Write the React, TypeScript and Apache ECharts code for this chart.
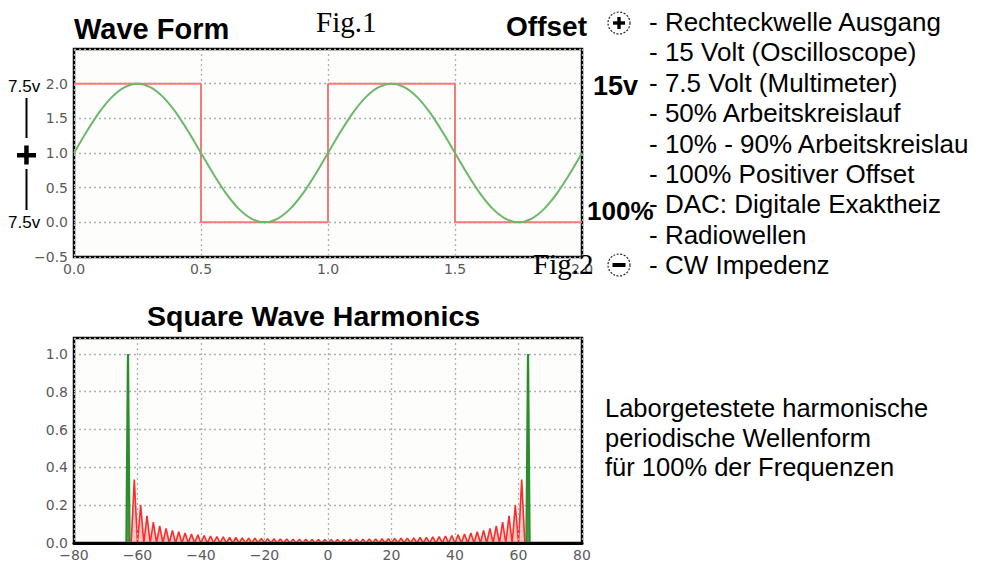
import React, { useEffect, useRef } from "react";
import * as echarts from "echarts";

// ---------- Fig.1 : Wave Form ----------
const waveX = [0, 0.05, 0.1, 0.15, 0.2, 0.25, 0.3, 0.35, 0.4, 0.45, 0.5, 0.55, 0.6, 0.65, 0.7, 0.75, 0.8, 0.85, 0.9, 0.95, 1.0,
  1.05, 1.1, 1.15, 1.2, 1.25, 1.3, 1.35, 1.4, 1.45, 1.5, 1.55, 1.6, 1.65, 1.7, 1.75, 1.8, 1.85, 1.9, 1.95, 2.0];
const sineY = [1.0, 1.31, 1.59, 1.81, 1.95, 2.0, 1.95, 1.81, 1.59, 1.31, 1.0, 0.69, 0.41, 0.19, 0.05, 0.0, 0.05, 0.19, 0.41, 0.69, 1.0,
  1.31, 1.59, 1.81, 1.95, 2.0, 1.95, 1.81, 1.59, 1.31, 1.0, 0.69, 0.41, 0.19, 0.05, 0.0, 0.05, 0.19, 0.41, 0.69, 1.0];
const squareX = [0, 0.5, 0.5, 1.0, 1.0, 1.5, 1.5, 2.0];
const squareY = [2, 2, 0, 0, 2, 2, 0, 0];

// ---------- Fig.2 : Square Wave Harmonics ----------
const greenLeftX = [-63.5, -63, -62.5];
const greenRightX = [62.5, 63, 63.5];
const greenY = [0, 1.0, 0];
const redPeakX = [-61, -59, -57, -55, -53, -51, -49, -47, -45, -43, -41, -39, -37, -35, -33, -31, -29, -27, -25, -23, -21, -19, -17, -15, -13, -11, -9, -7, -5, -3, -1,
  1, 3, 5, 7, 9, 11, 13, 15, 17, 19, 21, 23, 25, 27, 29, 31, 33, 35, 37, 39, 41, 43, 45, 47, 49, 51, 53, 55, 57, 59, 61];
const redPeakY = [0.335, 0.2, 0.143, 0.111, 0.091, 0.077, 0.067, 0.059, 0.053, 0.048, 0.043, 0.04, 0.037, 0.034, 0.032, 0.03, 0.029, 0.027, 0.026, 0.025, 0.024, 0.023, 0.022, 0.021, 0.021, 0.02, 0.02, 0.02, 0.019, 0.019, 0.018,
  0.018, 0.019, 0.019, 0.02, 0.02, 0.02, 0.021, 0.021, 0.022, 0.023, 0.024, 0.025, 0.026, 0.027, 0.029, 0.03, 0.032, 0.034, 0.037, 0.04, 0.043, 0.048, 0.053, 0.059, 0.067, 0.077, 0.091, 0.111, 0.143, 0.2, 0.335];

// ---------- texts ----------
const titleTop = "Wave Form";
const titleBottom = "Square Wave Harmonics";
const listLines = [
  "- Rechteckwelle Ausgang",
  "- 15 Volt (Oscilloscope)",
  "- 7.5 Volt (Multimeter)",
  "- 50% Arbeitskreislauf",
  "- 10% - 90% Arbeitskreislau",
  "- 100% Positiver Offset",
  "- DAC: Digitale Exaktheiz",
  "- Radiowellen",
  "- CW Impedenz",
];
const noteLines = [
  "Laborgetestete harmonische",
  "periodische Wellenform",
  "für 100% der Frequenzen",
];

const SANS = '"Liberation Sans", Arial, sans-serif';
const SERIF = '"Liberation Serif", "Times New Roman", serif';
const TICK_FONT = "DejaVu Sans";

const fmt = (d: number) => (v: number) => v.toFixed(d).replace("-", "\u2212");
const fmtInt = (v: number) => String(v).replace("-", "\u2212");

function txt(text: string, x: number, y: number, font: string, align = "left", extra: any = {}) {
  return {
    type: "text",
    z: 100,
    style: {
      text, x, y, font, fill: "#000",
      align, verticalAlign: "middle",
      textAlign: align, textVerticalAlign: "middle",
      ...extra,
    },
  };
}

export default function App() {
  const ref = useRef<HTMLDivElement>(null);
  useEffect(() => {
    if (!ref.current) return;
    const chart = echarts.init(ref.current, null, { renderer: "svg" });

    const splitDotted = { show: true, lineStyle: { color: "#b0b0b0", type: [2, 3], width: 1.3 } };
    const axisLabelBase = { color: "#5a5a5a", fontFamily: TICK_FONT, fontSize: 14, fontWeight: "normal" };

    const redZig: number[][] = [];
    redPeakX.forEach((x, i) => {
      redZig.push([x - 1, 0], [x, redPeakY[i]], [x + 1, 0]);
    });

    const graphics: any[] = [];
    graphics.push(txt(titleTop, 74, 29, `bold 29px ${SANS}`));
    graphics.push(txt("Fig.1", 316, 22, `29px ${SERIF}`));
    graphics.push(txt("Offset", 587, 26, `bold 28px ${SANS}`, "right"));
    graphics.push(txt("15v", 593, 86, `bold 27px ${SANS}`));
    graphics.push(txt("100%", 587, 211, `bold 26px ${SANS}`));
    graphics.push(txt("Fig.2", 533, 264, `29px ${SERIF}`));
    graphics.push(txt(titleBottom, 147, 316, `bold 28.5px ${SANS}`));
    listLines.forEach((l, i) => graphics.push(txt(l, 649, 22 + 30.4 * i, `26px ${SANS}`)));
    noteLines.forEach((l, i) => graphics.push(txt(l, 605, 408 + 29.5 * i, `25.5px ${SANS}`)));

    // left annotation of Fig.1
    graphics.push(txt("7.5v", 8, 86, `17px ${SANS}`));
    graphics.push(txt("7.5v", 8, 222, `17px ${SANS}`));
    graphics.push({ type: "line", z: 100, shape: { x1: 26.5, y1: 98, x2: 26.5, y2: 138 }, style: { stroke: "#000", lineWidth: 2 } });
    graphics.push({ type: "line", z: 100, shape: { x1: 26.5, y1: 169, x2: 26.5, y2: 210 }, style: { stroke: "#000", lineWidth: 2 } });
    graphics.push({ type: "rect", z: 100, shape: { x: 17, y: 153, width: 19, height: 4.5 }, style: { fill: "#000" } });
    graphics.push({ type: "rect", z: 100, shape: { x: 24.2, y: 145.5, width: 4.5, height: 19 }, style: { fill: "#000" } });

    // circled plus / minus
    graphics.push({ type: "circle", z: 100, shape: { cx: 619, cy: 23, r: 11 }, style: { fill: "none", stroke: "#222", lineWidth: 1.2, lineDash: [2, 1.5] } });
    graphics.push({ type: "rect", z: 100, shape: { x: 613, y: 21.3, width: 12, height: 3.4 }, style: { fill: "#000" } });
    graphics.push({ type: "rect", z: 100, shape: { x: 617.3, y: 17, width: 3.4, height: 12 }, style: { fill: "#000" } });
    graphics.push({ type: "circle", z: 100, shape: { cx: 619, cy: 265, r: 11 }, style: { fill: "none", stroke: "#222", lineWidth: 1.2, lineDash: [2, 1.5] } });
    graphics.push({ type: "rect", z: 100, shape: { x: 612.5, y: 263, width: 13, height: 4 }, style: { fill: "#000" } });

    chart.setOption({
      animation: false,
      backgroundColor: "#fff",
      grid: [
        { left: 74, top: 49, width: 508, height: 208, show: true, borderColor: "#000", borderWidth: 2.5, backgroundColor: "#fdfdfb" },
        { left: 74, top: 338, width: 508, height: 206, show: true, borderColor: "#000", borderWidth: 2.5, backgroundColor: "#fdfdfb" },
      ],
      xAxis: [
        {
          type: "value", gridIndex: 0, min: 0, max: 2, interval: 0.5,
          axisLine: { show: false }, axisTick: { show: false },
          axisLabel: { ...axisLabelBase, margin: 5, formatter: fmt(1) },
          splitLine: splitDotted,
        },
        {
          type: "value", gridIndex: 1, min: -80, max: 80, interval: 20, z: 10,
          axisLine: { show: true, onZero: false, lineStyle: { color: "#000", width: 3 } }, axisTick: { show: false },
          axisLabel: { ...axisLabelBase, margin: 5, formatter: fmtInt },
          splitLine: splitDotted,
        },
      ],
      yAxis: [
        {
          type: "value", gridIndex: 0, min: -0.5, max: 2.5, interval: 0.5,
          axisLine: { show: false }, axisTick: { show: false },
          axisLabel: { ...axisLabelBase, margin: 6, formatter: fmt(1), showMaxLabel: false },
          splitLine: splitDotted,
        },
        {
          type: "value", gridIndex: 1, min: 0, max: 1.084, interval: 0.2,
          axisLine: { show: false }, axisTick: { show: false },
          axisLabel: { ...axisLabelBase, margin: 6, formatter: fmt(1), showMaxLabel: false },
          splitLine: splitDotted,
        },
      ],
      series: [
        {
          type: "line", xAxisIndex: 0, yAxisIndex: 0, symbol: "none", z: 3,
          data: squareX.map((x, i) => [x, squareY[i]]),
          lineStyle: { color: "#f27c7c", width: 2 },
        },
        {
          type: "line", xAxisIndex: 0, yAxisIndex: 0, symbol: "none", smooth: 0.3, z: 4,
          data: waveX.map((x, i) => [x, sineY[i]]),
          lineStyle: { color: "#6bb86b", width: 2 },
        },
        {
          type: "line", xAxisIndex: 1, yAxisIndex: 1, symbol: "none", z: 3,
          data: redZig,
          lineStyle: { color: "#ff2a2a", width: 1.6 },
          areaStyle: { color: "#ff6060", opacity: 0.35 },
        },
        {
          type: "line", xAxisIndex: 1, yAxisIndex: 1, symbol: "none", z: 4,
          data: greenLeftX.map((x, i) => [x, greenY[i]]),
          lineStyle: { color: "#2a8c2a", width: 2.2 },
          areaStyle: { color: "#3c9a3c", opacity: 0.8 },
        },
        {
          type: "line", xAxisIndex: 1, yAxisIndex: 1, symbol: "none", z: 4,
          data: greenRightX.map((x, i) => [x, greenY[i]]),
          lineStyle: { color: "#2a8c2a", width: 2.2 },
          areaStyle: { color: "#3c9a3c", opacity: 0.8 },
        },
      ],
      graphic: graphics,
    });
    return () => chart.dispose();
  }, []);
  return (
    <div
      ref={ref}
      style={{ position: "absolute", left: 0, top: 0, width: 985, height: 562 }}
    />
  );
}
